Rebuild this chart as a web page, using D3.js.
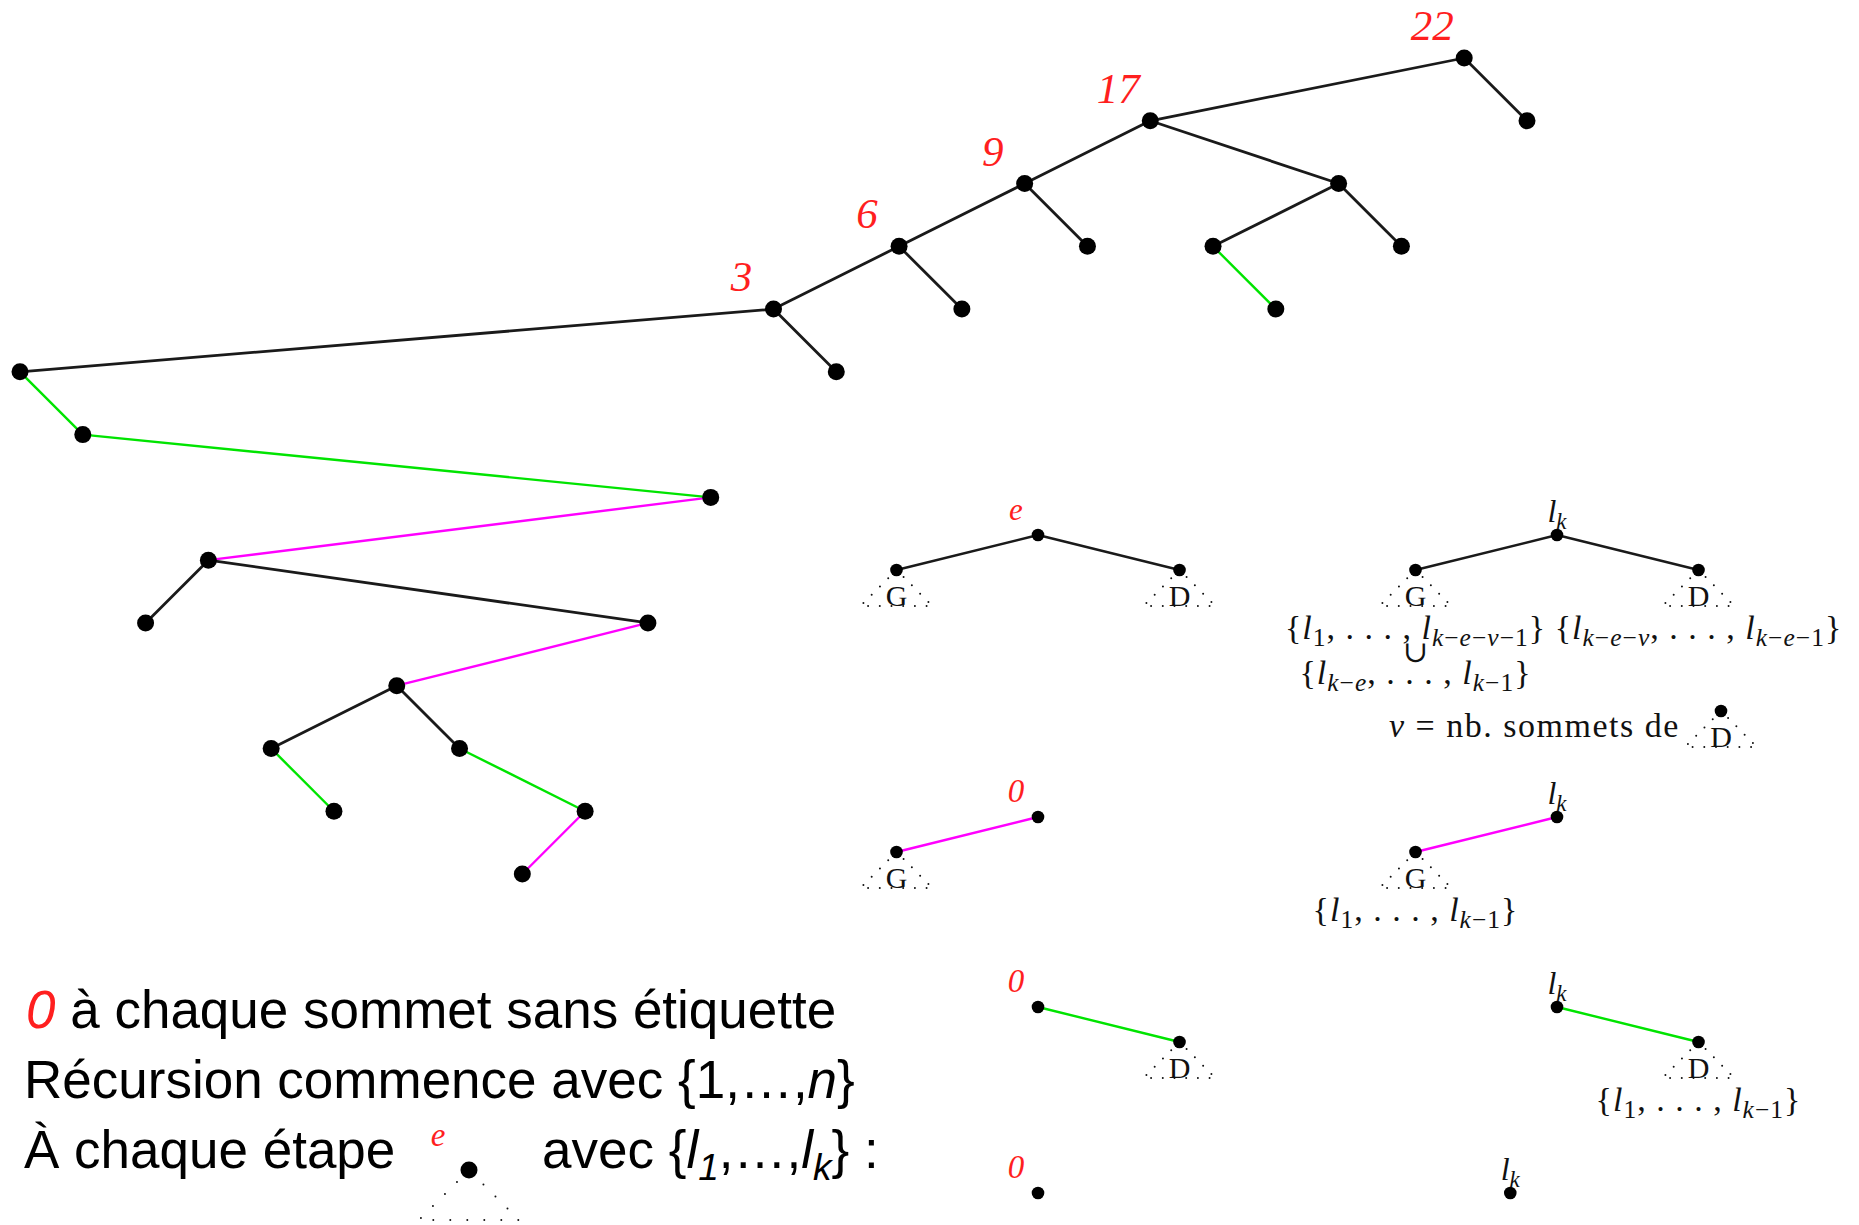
<!doctype html>
<html lang="fr">
<head>
<meta charset="utf-8">
<script src="https://cdn.jsdelivr.net/npm/d3@7"></script>
<style>
	body{
		padding:0px;
		margin:0px;
		background:#fff;
	}
</style>
</head>
<body>
<svg id="chart"></svg>
<script>
	// main tree : one entry per node, nodes in in-order position
	var treeDepth  = [5,6,9,8,11,12,10,11,13,12,9,7,4,5,3,4,2,3,1,3,4,2,3,0,1];
	var treeParent = [12,0,3,11,6,4,10,6,9,7,3,1,14,12,16,14,18,16,23,21,19,18,21,-1,23];
	var treeEdge   = ["n","g","n","m","n","g","m","n","m","g","n","g","n","n","n","n","n","n","n","n","g","n","n","","n"];
	var treeLabel  = ["","","","","","","","","","","","","3","","6","","9","","17","","","","","22",""];

	// small schemas on the right
	var schemaLabel = ["e","l_k","0","l_k","0","l_k","0","l_k"];
	var schemaCol   = [0,1,0,1,0,1,0,0.91];
	var schemaRow   = [0,0,1,1,2,2,3,3];
	var schemaKids  = ["GD","GD","G","G","D","D","",""];
	var schemaEdge  = ["n","n","m","m","g","g","",""];

	// label sets written under the subtrees
	var setSchema = [1,1,1,3,5];
	var setSide   = ["G","G","D","G","D"];
	var setLine   = [0,1,0,0,0];
	var setText   = ["{l_1, . . . , l_{k−e−v−1}}","{l_{k−e}, . . . , l_{k−1}}","{l_{k−e−v}, . . . , l_{k−e−1}}","{l_1, . . . , l_{k−1}}","{l_1, . . . , l_{k−1}}"];

	// text lines bottom left
	var noteLines = [" à chaque sommet sans étiquette","Récursion commence avec {1,…,n}","À chaque étape"];
	var noteTail  = "avec {l_1,…,l_k} :";

	var W = 1859, H = 1225;
	var serif = "'Liberation Serif','DejaVu Serif',serif";
	var sans = "'Liberation Sans',Arial,sans-serif";
	var red = "#ff1f1f";

	var edgeColor = d3.scaleOrdinal().domain(["n","g","m"]).range(["#1a1a1a","#00e400","#ff00ff"]);

	var svg = d3.select("#chart").attr("width",W).attr("height",H);
	svg.append("rect").attr("width",W).attr("height",H).attr("fill","#fff");

	//write a string with _x / _{..} subscripts, letters in italic
	function mathText(t, s, size, subItalic, subScale){
		subScale = subScale || 0.7;
		var segs = [], i = 0;
		while(i < s.length){
			if(s[i] == "_"){
				var body;
				if(s[i+1] == "{"){
					var j = s.indexOf("}", i);
					body = s.slice(i+2, j);
					i = j+1;
				}else{
					body = s[i+1];
					i += 2;
				}
				segs.push({t:body, sub:true});
			}else{
				var k = i;
				while(k < s.length && s[k] != "_") k++;
				segs.push({t:s.slice(i,k), sub:false});
				i = k;
			}
		}
		var shift = size*0.22, inSub = false;
		segs.forEach(function(sg){
			var parts = sg.t.split(/([a-zA-Z]+)/).filter(function(p){return p.length>0;});
			parts.forEach(function(p, n){
				var ts = t.append("tspan").text(p)
					.attr("font-size", sg.sub ? size*subScale : size)
					.attr("font-style", (/[a-zA-Z]/.test(p) || (sg.sub && subItalic)) ? "italic" : "normal");
				if(n == 0 && sg.sub && !inSub) ts.attr("dy", shift);
				if(n == 0 && !sg.sub && inSub) ts.attr("dy", -shift);
			});
			inSub = sg.sub;
		});
		return t;
	}

	//dotted triangle below a node
	function dottedTri(g, cx, cy, h, w, gap, letter){
		g.append("path")
			.attr("d", "M"+cx+","+cy+"L"+(cx-w)+","+(cy+h)+"L"+(cx+w)+","+(cy+h)+"Z")
			.attr("fill","none")
			.attr("stroke","#111")
			.attr("stroke-width",2)
			.attr("stroke-linecap","round")
			.attr("stroke-dasharray","0,"+gap);
		if(letter){
			g.append("text")
				.attr("x",cx).attr("y",cy+h)
				.attr("text-anchor","middle")
				.attr("font-family",serif)
				.attr("font-size",30)
				.attr("fill","#111")
				.text(letter);
		}
	}

	//main tree
	var xScale = d3.scaleLinear().domain([0,24]).range([20,1527]);
	var yScale = d3.scaleLinear().domain([0,13]).range([58,874]);
	var tree = svg.append("g");
	for(var i=0;i<treeDepth.length;i++){
		var p = treeParent[i];
		if(p < 0) continue;
		tree.append("line")
			.attr("x1",xScale(p)).attr("y1",yScale(treeDepth[p]))
			.attr("x2",xScale(i)).attr("y2",yScale(treeDepth[i]))
			.style("stroke",edgeColor(treeEdge[i]))
			.style("stroke-width", treeEdge[i]=="n" ? 2.8 : 2.4);
	}
	tree.selectAll("circle").data(treeDepth).enter().append("circle")
		.attr("cx",function(d,i){return xScale(i);})
		.attr("cy",function(d){return yScale(d);})
		.attr("r",8.5)
		.attr("fill","#000");
	tree.selectAll("text").data(treeLabel).enter().append("text")
		.attr("x",function(d,i){return xScale(i)-32;})
		.attr("y",function(d,i){return yScale(treeDepth[i])-18;})
		.attr("text-anchor","middle")
		.attr("font-family",serif)
		.attr("font-style","italic")
		.attr("font-size",43)
		.attr("fill",red)
		.text(function(d){return d;});

	//schemas
	var colX = d3.scaleLinear().domain([0,1]).range([1038,1557]);
	var rowY = d3.scaleOrdinal().domain([0,1,2,3]).range([535,817,1007,1193]);
	var kidDx = 141.5, kidDy = 35;
	var sch = svg.append("g");
	var kidPos = [];
	for(var i=0;i<schemaLabel.length;i++){
		var cx = colX(schemaCol[i]), cy = rowY(schemaRow[i]);
		kidPos.push({});
		for(var c=0;c<schemaKids[i].length;c++){
			var side = schemaKids[i][c];
			var kx = cx + (side=="G" ? -kidDx : kidDx), ky = cy + kidDy;
			kidPos[i][side] = [kx,ky];
			sch.append("line")
				.attr("x1",cx).attr("y1",cy).attr("x2",kx).attr("y2",ky)
				.style("stroke",edgeColor(schemaEdge[i]))
				.style("stroke-width",2.4);
			dottedTri(sch, kx, ky, 36, 36, 11.7, side);
			sch.append("circle").attr("cx",kx).attr("cy",ky).attr("r",6.3).attr("fill","#000");
		}
		sch.append("circle").attr("cx",cx).attr("cy",cy).attr("r",6.3).attr("fill","#000");
		var lab = schemaLabel[i];
		if(lab == "l_k"){
			mathText(sch.append("text")
				.attr("x",cx).attr("y",cy-13)
				.attr("text-anchor","middle")
				.attr("font-family",serif)
				.attr("fill","#111"), lab, 32, false, 0.72);
		}else{
			sch.append("text")
				.attr("x",cx-22).attr("y",cy-15)
				.attr("text-anchor","middle")
				.attr("font-family",serif)
				.attr("font-style","italic")
				.attr("font-size",lab=="0" ? 33 : 31)
				.attr("fill",red)
				.text(lab);
		}
	}

	//sets under subtrees
	for(var i=0;i<setText.length;i++){
		var kp = kidPos[setSchema[i]][setSide[i]];
		mathText(sch.append("text")
			.attr("x",kp[0]).attr("y",kp[1]+69+setLine[i]*45)
			.attr("text-anchor","middle")
			.attr("font-family",serif)
			.attr("letter-spacing",1)
			.attr("fill","#111"), setText[i], 34, false, 0.75);
	}
	var gk = kidPos[1]["G"];
	sch.append("text")
		.attr("x",gk[0]).attr("y",gk[1]+92)
		.attr("text-anchor","middle")
		.attr("font-family",serif)
		.attr("font-size",30)
		.attr("fill","#111")
		.text("∪");

	//v = nb. sommets de (D)
	var vx = colX(1), vy = rowY(0);
	var vt = sch.append("text")
		.attr("x",vx-168).attr("y",vy+202)
		.attr("font-family",serif)
		.attr("font-size",34)
		.attr("letter-spacing",1.5)
		.attr("fill","#111");
	vt.append("tspan").attr("font-style","italic").text("v");
	vt.append("tspan").text(" = nb. sommets de");
	dottedTri(sch, vx+164, vy+176, 36, 36, 11.7, "D");
	sch.append("circle").attr("cx",vx+164).attr("cy",vy+176).attr("r",6.3).attr("fill","#000");

	//notes bottom left
	var noteY = d3.scaleLinear().domain([0,2]).range([1028,1168]);
	var notes = svg.append("g").attr("font-family",sans).attr("font-size",53).attr("fill","#000");
	var t0 = notes.append("text").attr("x",26).attr("y",noteY(0));
	t0.append("tspan").attr("fill",red).attr("font-style","italic").text("0");
	t0.append("tspan").text(noteLines[0]);
	var t1 = notes.append("text").attr("x",24).attr("y",noteY(1));
	mathText(t1, noteLines[1], 53, true);
	t1.selectAll("tspan").filter(function(){return this.textContent != "n";}).attr("font-style","normal");
	notes.append("text").attr("x",24).attr("y",noteY(2)).text(noteLines[2]);
	var t2 = notes.append("text").attr("x",542).attr("y",noteY(2));
	mathText(t2, noteTail, 53, true);
	t2.select("tspan").attr("font-style","normal");

	// mini tree in the text
	var mx = 469, my = 1170;
	dottedTri(notes, mx, my, 50, 50, 17, "");
	notes.append("circle").attr("cx",mx).attr("cy",my).attr("r",8.5).attr("fill","#000");
	notes.append("text")
		.attr("x",mx-31).attr("y",my-24)
		.attr("text-anchor","middle")
		.attr("font-family",serif)
		.attr("font-style","italic")
		.attr("font-size",33)
		.attr("fill",red)
		.text("e");
</script>
</body>
</html>
